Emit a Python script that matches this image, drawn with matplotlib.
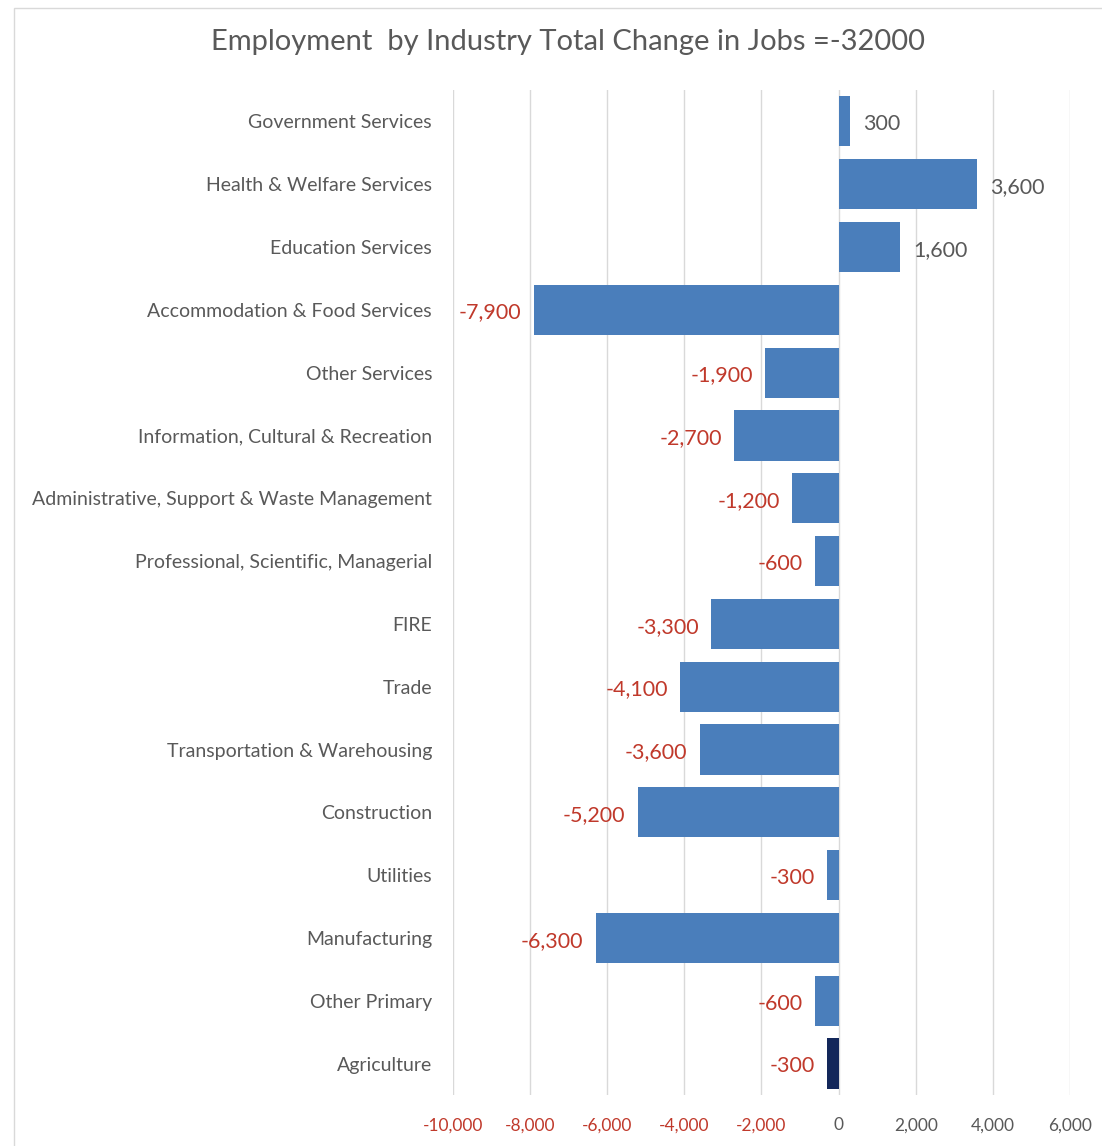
import matplotlib.pyplot as plt
from matplotlib.patches import Rectangle

industries = ['Government Services', 'Health & Welfare Services', 'Education Services',
              'Accommodation & Food Services', 'Other Services',
              'Information, Cultural & Recreation',
              'Administrative, Support & Waste Management',
              'Professional, Scientific, Managerial', 'FIRE', 'Trade',
              'Transportation & Warehousing', 'Construction', 'Utilities',
              'Manufacturing', 'Other Primary', 'Agriculture']
change = [300, 3600, 1600, -7900, -1900, -2700, -1200, -600, -3300, -4100,
          -3600, -5200, -300, -6300, -600, -300]
ticks = [-10000, -8000, -6000, -4000, -2000, 0, 2000, 4000, 6000]

plt.rcParams['font.family'] = ['Lato', 'DejaVu Sans']

blue = '#4a7ebb'
navy = '#13275a'
red = '#c0392b'
grey = '#595959'

fig = plt.figure(figsize=(11.02, 11.46), dpi=100)
ax = fig.add_axes([0.411, 0.0445, 0.56, 0.877])

y = list(range(len(industries)))
colors = [blue] * (len(industries) - 1) + [navy]
ax.barh(y, change, height=0.8, color=colors, zorder=3)

for yi, v in zip(y, change):
    if v >= 0:
        ax.annotate('{:,}'.format(v), (v, yi), xytext=(9, -2), textcoords='offset points',
                    ha='left', va='center', fontsize=15.5, color=grey)
    else:
        ax.annotate('{:,}'.format(v), (v, yi), xytext=(-9, -2), textcoords='offset points',
                    ha='right', va='center', fontsize=15.5, color=red)

ax.set_xlim(-10000, 6000)
ax.set_ylim(len(industries) - 0.5, -0.5)
ax.set_xticks(ticks)
ax.set_xticklabels(['{:,}'.format(t) for t in ticks])
for lbl, t in zip(ax.get_xticklabels(), ticks):
    lbl.set_color(red if t < 0 else grey)
ax.set_yticks(y)
ax.set_yticklabels(industries)
ax.tick_params(axis='y', length=0, pad=15, labelsize=14, labelcolor=grey)
ax.tick_params(axis='x', length=0, pad=16, labelsize=12.5)
ax.grid(axis='x', color='#d9d9d9', linewidth=1, zorder=0)
for s in ax.spines.values():
    s.set_visible(False)

fig.text(0.515, 0.963, 'Employment  by Industry Total Change in Jobs =-32000',
         ha='center', va='center', fontsize=21, color=grey)

fig.patches.append(Rectangle((0.013, -0.01), 1.0, 1.003, transform=fig.transFigure,
                             fill=False, edgecolor='#d9d9d9', linewidth=1))

fig.savefig('out.png', dpi=100)
